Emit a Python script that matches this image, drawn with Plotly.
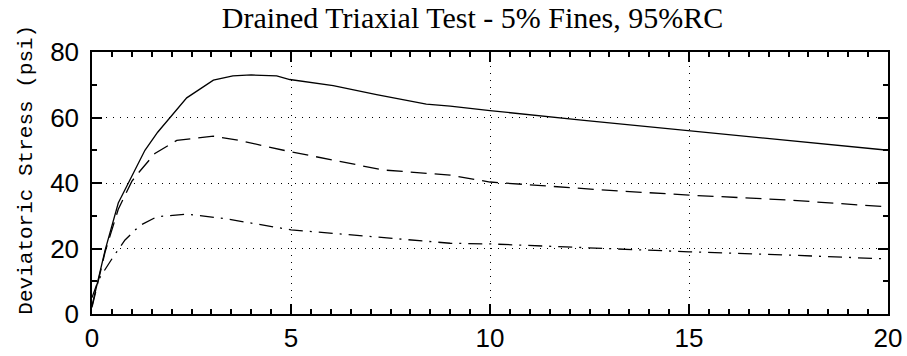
import plotly.graph_objects as go

# axial strain (%) vs deviatoric stress (psi)
strain_a = [0, 0.16, 0.33, 0.66, 1.0, 1.33, 1.65, 1.96, 2.38, 3.05, 3.54, 4.0, 4.64,
            4.97, 6.06, 7.15, 8.4, 9.0, 10.0, 12.3, 14.85, 17.4, 20.0]
stress_a = [2.5, 10.4, 19.5, 33.9, 42.0, 50.0, 55.5, 60.0, 66.0, 71.4, 72.7, 73.0, 72.7,
            71.6, 69.7, 67.0, 64.1, 63.5, 62.1, 59.2, 56.2, 53.1, 50.0]

strain_b = [0, 0.16, 0.33, 0.66, 1.0, 1.16, 1.58, 2.13, 3.05, 3.7, 5.0, 6.06, 7.3,
            9.0, 10.0, 12.8, 15.0, 17.5, 20.0]
stress_b = [2.0, 10.0, 19.0, 32.0, 40.5, 43.0, 49.0, 53.0, 54.3, 53.0, 49.5, 47.0, 44.0,
            42.4, 40.3, 37.9, 36.3, 34.8, 32.7]

strain_c = [0, 0.16, 0.53, 0.83, 1.2, 1.63, 2.4, 3.4, 5.0, 6.5, 7.5, 9.0, 10.0,
            12.5, 15.0, 17.5, 20.0]
stress_c = [5.0, 10.4, 17.4, 22.6, 27.0, 29.7, 30.5, 29.0, 25.7, 24.2, 23.0, 21.6, 21.4,
            20.1, 19.0, 18.0, 16.8]

x_ticks = [0, 5, 10, 15, 20]
y_ticks = [0, 20, 40, 60, 80]

fig = go.Figure()
fig.add_trace(go.Scatter(x=strain_a, y=stress_a, mode="lines",
                         line=dict(color="black", width=1.3)))
fig.add_trace(go.Scatter(x=strain_b, y=stress_b, mode="lines",
                         line=dict(color="black", width=1.3, dash="16px,8px")))
fig.add_trace(go.Scatter(x=strain_c, y=stress_c, mode="lines",
                         line=dict(color="black", width=1.3, dash="14px,7px,2px,7px")))

tick_font = dict(family="Liberation Sans", size=26, color="black")
serif = "Liberation Serif"

axis_common = dict(
    showline=True, linecolor="black", linewidth=1.5,
    ticks="inside", ticklen=10, tickwidth=1.5, tickcolor="black",
    zeroline=False, tickfont=tick_font, automargin=False,
)
x_minor = dict(dtick=0.5, ticks="inside", ticklen=5, tickwidth=1.5,
               tickcolor="black", showgrid=False)
y_minor = dict(dtick=10, ticks="inside", ticklen=5, tickwidth=1.5,
               tickcolor="black", showgrid=False)

fig.update_layout(
    width=907, height=356,
    margin=dict(l=92, r=19, t=52, b=42),
    plot_bgcolor="white", paper_bgcolor="white",
    showlegend=False,
    title=dict(text="Drained Triaxial Test - 5% Fines, 95%RC",
               x=0.478, xref="paper", xanchor="center", y=0.952, yanchor="middle",
               font=dict(family=serif, size=30, color="black")),
    xaxis=dict(range=[0, 20], tickvals=x_ticks, minor=x_minor,
               showgrid=True, gridcolor="black", gridwidth=1, griddash="1px,6px",
               **axis_common),
    yaxis=dict(range=[0, 80], tickvals=y_ticks, minor=y_minor,
               showgrid=True, gridcolor="black", gridwidth=1, griddash="1px,6px",
               ticklabelstandoff=6, **axis_common),
    # mirrored axes carry the ticks on the top and right edges
    xaxis2=dict(range=[0, 20], tickvals=x_ticks, minor=x_minor, overlaying="x",
                side="top", showticklabels=False, showgrid=False, **axis_common),
    yaxis2=dict(range=[0, 80], tickvals=y_ticks, minor=y_minor, overlaying="y",
                side="right", showticklabels=False, showgrid=False, **axis_common),
    annotations=[dict(text="Deviatoric Stress (psi)", textangle=-90,
                      xref="paper", yref="paper", x=-0.082, y=0.55,
                      xanchor="center", yanchor="middle", showarrow=False,
                      font=dict(family="Liberation Mono", size=21, color="black"))],
)
# invisible trace so the mirrored axes get drawn
fig.add_trace(go.Scatter(x=[0, 20], y=[0, 80], xaxis="x2", yaxis="y2",
                         mode="lines", line=dict(width=0), hoverinfo="skip",
                         showlegend=False))

# drop the default 8px body margin so the figure fills the window
fig.write_html("out.html", config={"displayModeBar": False},
               post_script="document.body.style.margin = '0';")
